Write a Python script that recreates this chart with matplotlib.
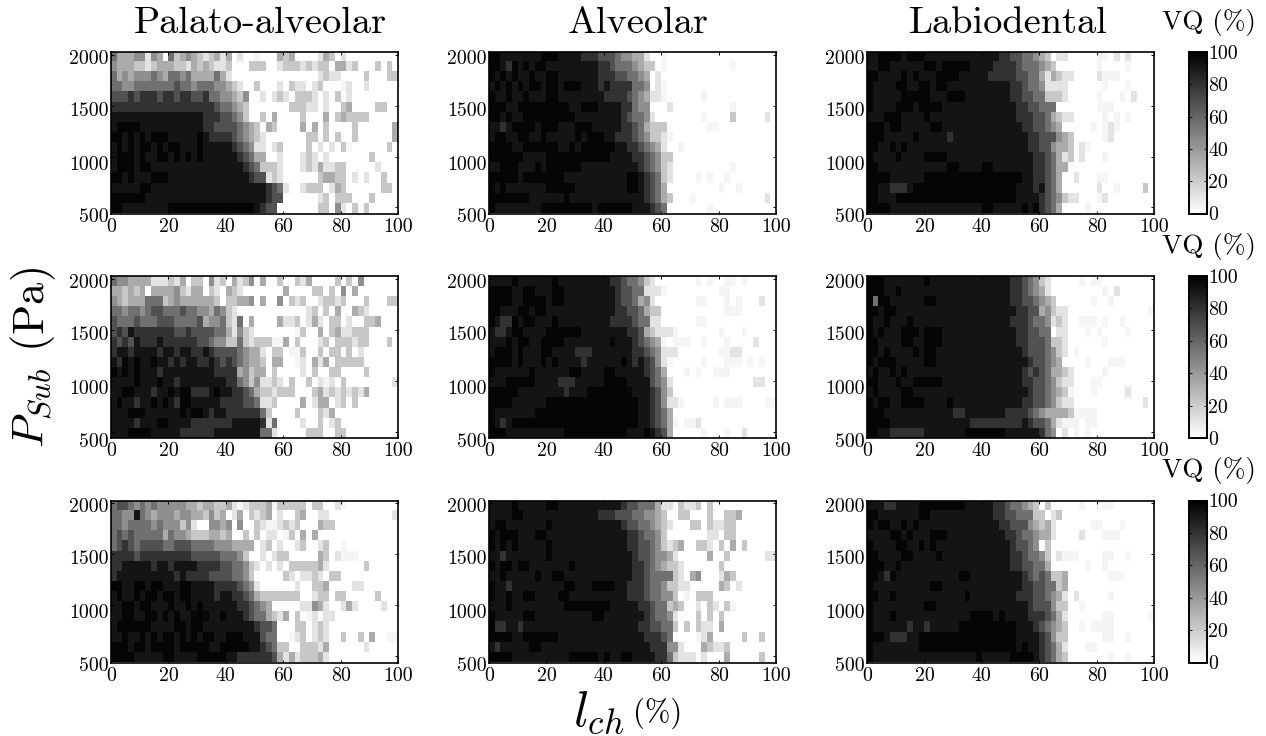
import numpy as np
import matplotlib
matplotlib.use("Agg")
import matplotlib.pyplot as plt
from matplotlib.transforms import ScaledTranslation

plt.rcParams['font.family'] = ['cmr10']
plt.rcParams['mathtext.fontset'] = 'cm'
plt.rcParams['axes.unicode_minus'] = False
plt.rcParams['axes.formatter.use_mathtext'] = True

# One string per subglottal-pressure row (top row first), one character per l_ch bin.
# Character = darkness level.
LEVELS = {'0': 0, 'a': 4, '1': 11, '2': 22, '3': 33, '4': 44, '5': 56, '6': 68, '7': 80, '8': 92, '9': 98}

palato_1 = [
 "5333441430 5234321231 30100a0003 2300001320 1000000000",
 "4333221233 3221323211 2000222001 2221212203 3120002020",
 "5343444543 5545333353 1000000000 0000001211 0000200022",
 "5544555555 5655455544 3210020001 0211012000 a100100000",
 "6667677767 7677667554 4324001012 1022210102 0100000000",
 "7777777777 7777777765 5432000000 0222110100 2300002200",
 "8888888888 8888887776 6542002030 0002000302 3222200000",
 "8999988888 8888887766 6654320320 0003030200 0020000003",
 "9989898999 8888898777 7654321000 0000220202 0020000003",
 "8989899898 9988898888 8765411012 0000201010 2a00000020",
 "8999898899 8989898888 8876533001 0001210100 0000020000",
 "8999899888 8888888888 8887652221 0001213112 2000001000",
 "9989888999 8888888888 8888766121 0000002332 2010100200",
 "8888899888 8888888888 8888888765 1001222013 2000000220",
 "9999998888 8888888888 8888888766 0000001202 2200020000",
 "9988888888 9999999999 9999987660 0000002204 1020200000",
]
palato_2 = [
 "5443333111 2130220412 0312403002 0021300002 0204000000",
 "3323230333 3421330210 3210000000 3000022020 4030000000",
 "4323335552 3433333320 2233403004 0212001221 2000200022",
 "5545545665 5565544354 2100000000 0000120203 0032100000",
 "6555655566 6555563445 2150300003 1120131022 0100223000",
 "6768777777 7667666655 3142100000 00a2003023 1122200000",
 "7676877787 7777766544 2252122 2aa 3020001202 2212200020",
 "7887888878 8788778766 6654331022 0aa2002022 0201000000",
 "8798988988 7878877876 7654332033 00a1031302 2222000000",
 "9898988878 8888888877 7734233020 0001020022 0000200000",
 "8888988898 8788888888 7754241121 0200201a10 2000000001",
 "8899888788 9899777898 8776532212 2200023121 2121300000",
 "8988788989 8799888887 7776651120 0003013301 2020000000",
 "8889998888 8898998788 7777775200 0020002130 0000000000",
 "8888788899 8888777777 7888887150 0001002012 0000000000",
 "8889999888 8877777788 8888885510 0000222002 2000000000",
]
palato_3 = [
 "5665454544 4443323322 31a1222 3a2 2222022001 a000000000",
 "5544854344 4344332423 0130212301 0023001100 0000000001",
 "5545555454 4424100443 404002 1aa1 2120003220 0000000000",
 "5656555553 5443222332 3002020110 a203030000 0000000000",
 "5676566665 5666555544 4333301201 0012001200 a000000000",
 "7777677777 7777666665 5542001012 2000003201 aaa0000000",
 "7788888788 7888877776 6554210101 0222223100 0000200000",
 "7888888888 8787777666 6554200000 2101121022 0000000000",
 "9988998998 8899888877 7765410000 0010022300 0011000000",
 "8988989989 9899888878 8776532222 2220012202 2000002000",
 "8899899888 9889898888 8877654300 0001143100 1310000100",
 "8899889989 8988999889 8887655321 3020a10110 0000000000",
 "8999999888 8998998888 8888876650 0022012100 0000000000",
 "8898898989 9898989988 9998886550 0a12012100 20020300aa",
 "9998998999 9899999889 9999887652 2002221300 0000100000",
 "9999888889 9888899999 8877777763 1312223100 0000000000",
]
alveolar_1 = [
 "9988888889 9988887776 6654433100 a000000000 0000000000",
 "9987989899 8888888887 7655543220 a000000000 00a0000000",
 "9898988988 9988888887 7766554301 0000000000 0000000000",
 "8989898998 9989998887 8777755401 a000000000 0000000000",
 "9889889888 9988888888 7777654311 a000000a00 0000000000",
 "9998899999 9999889998 8887754400 0100000000 00a0000000",
 "9989889999 9999988888 8887655410 0000000a00 0020000010",
 "8878999989 9988899988 8887765322 2000000 0aa0000000000",
 "8998899889 8888898999 8877765422 1a00000000 0000000000",
 "9999889999 9988989999 9988776543 1 0 0a000000 0000000000",
 "9999998888 9999999999 9888877654 2200000000 0000000000",
 "8899988898 9999998888 8888887654 2100000000 00a0000000",
 "9999989999 9998888888 8888998765 21000 0a0a0 0a00000000",
 "9898888888 9999988888 8888998765 3000000000 a00a000000",
 "9999999888 8889888888 8888888765 3200 0a0000 0000000010",
 "9888888889 9999999989 9999988876 5000000 0a0 0000000000",
]
alveolar_2 = [
 "8888988888 8988888888 8776554210 000000a0a0 0aa0a00000",
 "9999889988 8998888888 8876655111 a000000000 aa00000000",
 "9999889999 8998888888 8876653410 000000aa00 0a0a000100",
 "9988899899 8888888888 8877665322 0000000000 0aaa000000",
 "9877989988 8988888888 8777765511 000000aa00 0000000000",
 "8778998888 9999998888 8888776321 11a0000000 a000a00000",
 "8889899889 9998888888 8988876543 a0aaa00a00 0a00001000",
 "8999898889 9888877788 8888877654 1110000000 aa11000000",
 "9999898889 8988887888 8889878764 1a00000a00 0aaa0a0a00",
 "9888888988 8888998888 9988888765 3000a0a00a aa00000000a",
 "8889999988 8877788888 9999888865 4100000000 0000001100",
 "9999988888 8887888999 9999988876 4200000000 0000000000",
 "9999888888 9999999999 9999998876 411a00000a 0aaa000 0aa",
 "9888888899 9999999999 9999998876 5300000000 0000000000",
 "9878999999 9999999999 9999998876 53a0aa1000 0000000000",
 "9998888888 8889999999 9999888987 6300000a00 0a00100000",
]
alveolar_3 = [
 "8888988888 9988888888 8887665553 1102112020 0000000000",
 "8888998888 8888888887 7766655443 2002200020 0223000000",
 "8998888888 9888888888 8887665543 2100022021 1220000000",
 "9899988899 8888888888 8888776554 2000000011 0220000000",
 "9898988888 9888888888 8888776654 2123002210 2030200000",
 "8878888888 9888888888 8888876654 4310000030 0200000011",
 "9899899888 8888988888 8888877654 3221000000 2000000000",
 "8898888898 8998888888 8888877655 5521034000 1320000000",
 "9887888888 8889988899 9988777655 4221100000 3201000000",
 "9889889988 8899888888 8888777655 442 0a02220 0000000000",
 "8889888888 8889999999 9888887765 5232001021 02a0000000",
 "9888889988 8888888899 8888888765 5410002020 2000000000",
 "9778878888 8888888888 8888887766 5520202110 3000000000",
 "9999889999 9988888888 8888888777 650000a130 0000200200",
 "8788888998 8888888888 8888888877 7441000321 1200000000",
 "9999888888 8888999998 9889988887 7521110100 0300000200",
]
labio_1 = [
 "8899998999 8888888888 8887766554 3201100000 aa01010000",
 "8899888888 9989999988 8877776555 4320000000 a0000a0000",
 "9988889898 8899998888 8777776655 3132110000 1aaa000000",
 "9888899889 9899888888 8888877655 4111100000 0a000a0000",
 "9888889999 9888999888 8888877665 5222100000 a000a01000",
 "9888899989 9998888888 8888887766 5550000000 aaa0000000",
 "8889998888 9888888888 8888887776 6532110000 0a0a0a0000",
 "9998998888 8998888888 8888888776 654300000a 0a1a000000",
 "9998888898 8888788888 8888888877 6664320000 0a10000000",
 "9988989888 8888888888 8888888877 66433201a0 0000000000",
 "9888898888 9999888888 8888888887 7653120100 0a00000000",
 "9988888888 8888998888 9988888887 7653300000 0000000000",
 "9999888888 9999999999 9999999887 76530010 00 aa00000000",
 "9988777899 9999999999 9999998887 8653000000 100a000020",
 "9988899999 9999999999 9999998888 7654211000 a100000000",
 "9999888888 8888888888 9988888989 765300 00a0 0000000000",
]
labio_2 = [
 "9998888888 9888888888 8888877654 2100000a0a a000000000",
 "9998898888 8888888888 8888877654 3100000000 0a01000000",
 "9599888888 9988888888 8888877665 432000000a 00a0000000",
 "9989988888 8888888888 8888887766 3421100000 000000000a",
 "9889888988 8888888888 8888877765 5412100aaa 0a00a00000",
 "9898889998 9998888888 8888887766 55011000a0 a0000a0000",
 "9988889988 9998888888 8888887766 6522100000 0a00000000",
 "9989888898 9988888888 8888888766 654210a000 0000000000",
 "9899988888 9988888888 8888888876 6543000 0a0 00aaa00000",
 "8988989888 8888888888 8888888767 6533210000 0a00000000",
 "9988898899 9998888888 8888888776 654211000a a000000000",
 "8988889988 8888888888 8888888876 65432a000a 0000010000",
 "9899889999 8888988888 8888888776 6542110000 0000000010",
 "9998888888 8888877888 8888777765 433332aaaa 0000000000",
 "9999888888 8888888877 7777777876 6531aaa0aa 0000000000",
 "9988777777 8888888999 9999888888 75401 0a0a0 0000000000",
]
labio_3 = [
 "8887788889 9999999888 8877655432 0200000a00 0aa0000000",
 "9988888889 9888888888 8877665552 2012000000 0000000000",
 "9899889898 8888888888 8887766643 2310000 00a a000a00000",
 "8888998988 8999888888 8888776554 3310000100 0aaa000000",
 "9888899889 8988888888 8888876654 0200000000 0000000000",
 "9988889988 8898888888 8888877655 420 1aaa000 0aa00a0000",
 "9998898888 8888888888 8888877665 5300000 0a0 0a00000000",
 "9987988888 8888889988 8888888765 6522300000 00aaa00000",
 "9888888888 8998888888 8888888776 6552300000 0000000000",
 "9988988888 8888888988 8888887776 654310100 0 00a0000000",
 "9888888888 9988888888 8888888876 6642200a00 0000000000",
 "9888988888 8888888899 9989888877 7653100000 0aa000000a",
 "9888888788 7888889999 9999998887 65432 00a0a a a a0000000",
 "9998777889 9999999999 9999998888 7642200000 0aa00a0000",
 "9888888889 9999999999 9999998988 765310 00aa 0000000000",
 "9888888888 8888888889 8888899998 7653200000 00a00a0000",
]

panels = [[palato_1, alveolar_1, labio_1],
          [palato_2, alveolar_2, labio_2],
          [palato_3, alveolar_3, labio_3]]
titles = ["Palato-alveolar", "Alveolar", "Labiodental"]
x_ticks = [0, 20, 40, 60, 80, 100]
y_ticks = [500, 1000, 1500, 2000]
cbar_ticks = [0, 20, 40, 60, 80, 100]

def decode(rows):
    out = []
    for r in rows:
        s = r.replace(" ", "").ljust(50, "0")[:50]
        out.append([LEVELS[c] for c in s])
    return np.array(out, float)

W, H = 1266, 736
fig = plt.figure(figsize=(W / 100, H / 100), dpi=100)

def box(l, t, r, b):
    return [l / W, 1 - b / H, (r - l) / W, (b - t) / H]

lefts = [111, 489, 867]
tops = [(52, 213.5), (276, 438), (500.5, 662.5)]
title_x = [260, 638, 1008]
label_drop = [8, 6, 3, 2]
mesh = None
for i, (t, b) in enumerate(tops):
    for j, l in enumerate(lefts):
        ax = fig.add_axes(box(l, t, l + 287, b))
        mesh = ax.imshow(decode(panels[i][j]), cmap='gray_r', vmin=0, vmax=100, aspect='auto',
                         interpolation='nearest', extent=[0, 100, 441, 2029], origin='upper')
        ax.set_xticks(x_ticks)
        ax.set_yticks(y_ticks)
        ax.set_xticklabels([str(v) for v in x_ticks], fontsize=14.3)
        ax.set_yticklabels([str(v) for v in y_ticks], fontsize=14.3)
        ax.tick_params(direction='in', top=True, right=True, length=2.5, width=0.7, pad=2)
        ax.tick_params(axis='x', pad=3)
        for lab, d in zip(ax.get_yticklabels(), label_drop):
            lab.set_transform(lab.get_transform() + ScaledTranslation(0, -d / 100, fig.dpi_scale_trans))
        for s in ax.spines.values():
            s.set_linewidth(1.2)
        if i == 0:
            fig.text(title_x[j] / W, 1 - 23 / H, titles[j], fontsize=27.7, ha='center', va='center')
    cax = fig.add_axes(box(1189, t, 1207, b))
    cb = fig.colorbar(mesh, cax=cax, ticks=cbar_ticks)
    cb.ax.set_yticklabels([str(v) for v in cbar_ticks], fontsize=14.3)
    cb.ax.tick_params(direction='in', length=2, width=0.6, pad=1, left=True, right=True)
    cb.outline.set_linewidth(1.4)
    fig.text(1208.5 / W, 1 - (t - 30) / H, "VQ (%)", fontsize=19.5, ha='center', va='center')

fig.text(33 / W, 1 - 358 / H, r"$P_{Sub}$ (Pa)", fontsize=32, rotation=90, ha='center', va='center')
fig.text(599 / W, 1 - 713 / H, r"$l_{ch}$", fontsize=36, ha='center', va='center')
fig.text(657.5 / W, 1 - 713 / H, "(%)", fontsize=22, ha='center', va='center')

fig.savefig("out.png", dpi=100)
